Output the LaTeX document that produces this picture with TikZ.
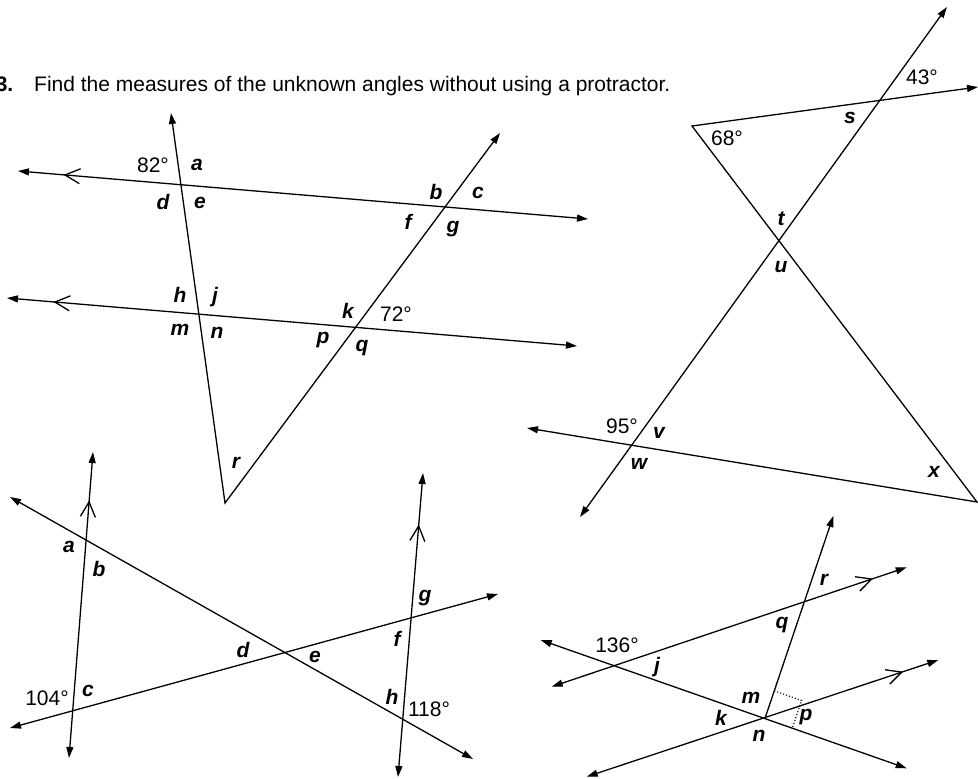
\documentclass[tikz,border=0pt]{standalone}
\usepackage{fontspec}
\setmainfont{Liberation Sans}
\usetikzlibrary{arrows.meta,calc,decorations.markings}
\begin{document}
\begin{tikzpicture}[x=1pt,y=-1pt,
  >={Triangle[length=11pt,width=7pt]},
  ln/.style={line width=1.3pt, line join=miter},
  chev/.style={postaction={decorate,decoration={markings,
      mark=at position #1 with {\draw[line width=1.3pt,-,line join=miter] (-15pt,7.5pt) -- (0pt,0pt) -- (-15pt,-7.5pt);}}}},
  deg/.style={inner sep=0pt, font=\fontsize{21}{25}\selectfont},
  lbl/.style={inner sep=0pt, font=\fontsize{21}{25}\selectfont\bfseries\itshape},
  ttl/.style={inner sep=0pt, font=\fontsize{21}{25}\selectfont}]
\useasboundingbox (0,0) rectangle (978,779);

% title
\node[ttl, anchor=base east, font=\fontsize{21}{25}\selectfont\bfseries] (num) at (13.5,91.5) {3.};
\node[ttl, anchor=base west] (title) at (34,91.5) {Find the measures of the unknown angles without using a protractor.};

% ---------- figure 1 ----------
\coordinate (A1) at (18,171);
\coordinate (A2) at (588,219);
\coordinate (B1) at (7,298);
\coordinate (B2) at (577,346);
\coordinate (T1) at (171,113);
\coordinate (V1) at (225,503);
\coordinate (D1) at (500,133);
\draw[ln,<->,chev=0.9175] (A2) -- (A1);
\draw[ln,<->,chev=0.916] (B2) -- (B1);
\draw[ln,<->] (T1) -- (V1) -- (D1);
\node[deg] (f1l82) at (153,165) {82°};
\node[lbl] (f1a) at (197,165) {a};
\node[lbl] (f1d) at (163,202) {d};
\node[lbl] (f1e) at (200,203) {e};
\node[lbl] (f1b) at (436,192) {b};
\node[lbl] (f1c) at (478,193) {c};
\node[lbl] (f1f) at (408,222) {f};
\node[lbl] (f1g) at (453,229) {g};
\node[lbl] (f1h) at (180,295) {h};
\node[lbl] (f1j) at (215,297) {j};
\node[lbl] (f1k) at (348,311) {k};
\node[deg] (f1l72) at (396,314) {72°};
\node[lbl] (f1m) at (180,330) {m};
\node[lbl] (f1n) at (217,333) {n};
\node[lbl] (f1p) at (323,340) {p};
\node[lbl] (f1q) at (362,348) {q};
\node[lbl] (f1r) at (236,463) {r};

% ---------- figure 2 ----------
\coordinate (E1) at (978,87);
\coordinate (V2) at (692,126);
\coordinate (V3) at (977,502);
\coordinate (F1) at (527,428);
\coordinate (G1) at (580,517);
\coordinate (G2) at (947,7);
\draw[ln,<->] (E1) -- (V2) -- (V3) -- (F1);
\draw[ln,<->] (G1) -- (G2);
\node[deg] (f2l43) at (922,77) {43°};
\node[lbl] (f2s) at (850,118) {s};
\node[deg] (f2l68) at (727,138) {68°};
\node[lbl] (f2t) at (781,219) {t};
\node[lbl] (f2u) at (781,267) {u};
\node[deg] (f2l95) at (622,426) {95°};
\node[lbl] (f2v) at (659,433) {v};
\node[lbl] (f2w) at (639,464) {w};
\node[lbl] (f2x) at (934,472) {x};

% ---------- figure 3 ----------
\coordinate (H1) at (69,758);
\coordinate (H2) at (93,452);
\coordinate (I1) at (398,777);
\coordinate (I2) at (423,473);
\coordinate (J1) at (10,497);
\coordinate (J2) at (473,759);
\coordinate (K1) at (10,728);
\coordinate (K2) at (498,594);
\draw[ln,<->,chev=0.837] (H1) -- (H2);
\draw[ln,<->,chev=0.8256] (I1) -- (I2);
\draw[ln,<->] (J1) -- (J2);
\draw[ln,<->] (K1) -- (K2);
\node[lbl] (f3a) at (69,547) {a};
\node[lbl] (f3b) at (99,569) {b};
\node[deg] (f3l104) at (47,698) {104°};
\node[lbl] (f3c) at (88,691) {c};
\node[lbl] (f3d) at (243,650) {d};
\node[lbl] (f3e) at (315,657) {e};
\node[lbl] (f3f) at (397,639) {f};
\node[lbl] (f3g) at (425,598) {g};
\node[lbl] (f3h) at (392,697) {h};
\node[deg] (f3l118) at (429,709) {118°};

% ---------- figure 4 ----------
\coordinate (P1) at (551.7,686.7);
\coordinate (P2) at (906.7,567.3);
\coordinate (Q1) at (586.7,776.7);
\coordinate (Q2) at (938.3,660);
\coordinate (S1) at (540.7,640);
\coordinate (S2) at (906.7,768.3);
\coordinate (N) at (765,718.3);
\coordinate (Rt) at (833.3,516);
\draw[ln,<->,chev=0.9015] (P1) -- (P2);
\draw[ln,<->,chev=0.896] (Q1) -- (Q2);
\draw[ln,<->] (S1) -- (S2);
\draw[ln,->] (N) -- (Rt);
\coordinate (Ra) at ($(N)!29pt!(Rt)$);
\coordinate (Sa) at ($(N)!29pt!(S2)$);
\coordinate (Ca) at ($(Ra)+(Sa)-(N)$);
\draw[line width=1.1pt, dotted] (Ra) -- (Ca) -- (Sa);
\node[deg] (f4l136) at (617,645) {136°};
\node[lbl] (f4j) at (657,667) {j};
\node[lbl] (f4q) at (782,625) {q};
\node[lbl] (f4r) at (824,580) {r};
\node[lbl] (f4m) at (751,698) {m};
\node[lbl] (f4k) at (721,718) {k};
\node[lbl] (f4n) at (759,736) {n};
\node[lbl] (f4p) at (806,717) {p};
\end{tikzpicture}
\end{document}
